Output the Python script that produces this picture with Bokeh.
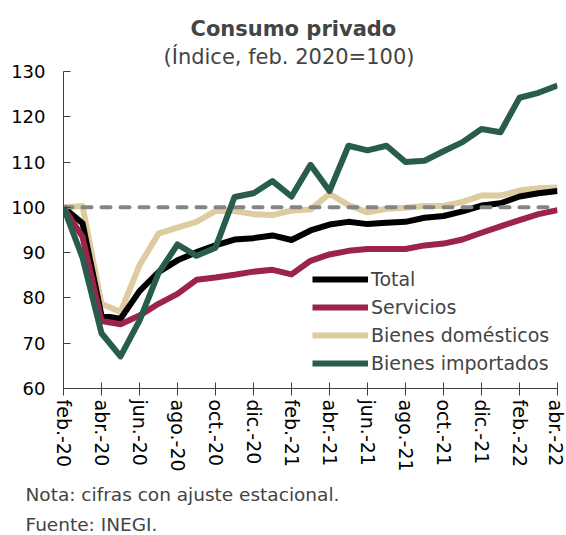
from bokeh.plotting import figure
from bokeh.models import Legend, LegendItem, FixedTicker, Title
from bokeh.embed import file_html
from bokeh.resources import INLINE

months = ["feb.-20", "mar.-20", "abr.-20", "may.-20", "jun.-20", "jul.-20", "ago.-20",
          "sep.-20", "oct.-20", "nov.-20", "dic.-20", "ene.-21", "feb.-21", "mar.-21",
          "abr.-21", "may.-21", "jun.-21", "jul.-21", "ago.-21", "sep.-21", "oct.-21",
          "nov.-21", "dic.-21", "ene.-22", "feb.-22", "mar.-22", "abr.-22"]

total = [100, 96.5, 76.1, 75.4, 81.5, 85.7, 88.3, 90.1, 91.6, 92.9, 93.2, 93.8, 92.8,
         94.9, 96.2, 96.8, 96.3, 96.6, 96.8, 97.7, 98.1, 99.1, 100.4, 100.9, 102.4, 103.1, 103.6]
servicios = [100, 93.5, 74.9, 74.2, 76.1, 78.7, 80.9, 84.0, 84.5, 85.1, 85.8, 86.2, 85.2,
             88.2, 89.6, 90.4, 90.8, 90.8, 90.8, 91.6, 92.0, 92.9, 94.4, 95.8, 97.2, 98.5, 99.4]
domesticos = [100, 100.3, 78.7, 76.9, 87.2, 94.2, 95.5, 96.8, 99.2, 99.2, 98.5, 98.3, 99.3,
              99.5, 103.0, 100.5, 98.9, 99.7, 99.9, 100.3, 100.3, 101.2, 102.6, 102.6, 103.7, 104.2, 104.4]
importados = [100, 88.9, 72.2, 67.1, 75.0, 85.5, 91.8, 89.3, 91.1, 102.3, 103.1, 105.8, 102.4,
              109.4, 103.6, 113.6, 112.6, 113.6, 110.0, 110.3, 112.4, 114.4, 117.3, 116.6, 124.2, 125.3, 126.9]

series_names = ["Total", "Servicios", "Bienes domésticos", "Bienes importados"]
y_ticks = [60, 70, 80, 90, 100, 110, 120, 130]
baseline = 100

title_text = "Consumo privado"
subtitle_text = "(Índice, feb. 2020=100)"
note_text = "Nota: cifras con ajuste estacional."
source_text = "Fuente: INEGI."

FONT = "DejaVu Sans"
x = list(range(len(months)))

p = figure(width=566, height=535, output_backend="svg", toolbar_location=None,
           x_range=(0, len(months) - 1), y_range=(60, 130),
           min_border_left=63, min_border_right=9, min_border_top=71, min_border_bottom=147)
p.outline_line_color = None
p.xgrid.visible = False
p.ygrid.visible = False

colors = {"Total": "#000000", "Servicios": "#9D2449",
          "Bienes domésticos": "#DFCBA0", "Bienes importados": "#285C4D"}
lw = 6

r_dom = p.line(x, domesticos, line_color=colors["Bienes domésticos"], line_width=lw, line_join="round")
r_tot = p.line(x, total, line_color=colors["Total"], line_width=lw, line_join="round")
r_ser = p.line(x, servicios, line_color=colors["Servicios"], line_width=lw, line_join="round")
p.line([0, len(months) - 1], [baseline, baseline], line_color="#858585", line_width=4,
       line_dash="9 10", line_cap="round")
r_imp = p.line(x, importados, line_color=colors["Bienes importados"], line_width=lw, line_join="round")

# axes
p.xaxis.ticker = FixedTicker(ticks=x[::2])
p.xaxis.major_label_overrides = {i: months[i] for i in x}
p.xaxis.major_label_orientation = "vertical"
p.yaxis.ticker = FixedTicker(ticks=y_ticks)
for ax in (p.xaxis[0], p.yaxis[0]):
    ax.axis_line_color = "#404040"
    ax.major_tick_line_color = "#404040"
    ax.minor_tick_line_color = None
    ax.major_label_text_font = FONT
    ax.major_label_text_color = "#000000"
p.yaxis.major_label_text_font_size = "18px"
p.xaxis.major_label_text_font_size = "19px"
p.yaxis.major_tick_in = 7
p.yaxis.major_tick_out = 0
p.yaxis.major_label_standoff = 18
p.xaxis.major_tick_in = 6
p.xaxis.major_tick_out = 7
p.xaxis.major_label_standoff = 4

legend = Legend(items=[LegendItem(label=series_names[0], renderers=[r_tot]),
                       LegendItem(label=series_names[1], renderers=[r_ser]),
                       LegendItem(label=series_names[2], renderers=[r_dom]),
                       LegendItem(label=series_names[3], renderers=[r_imp])],
                location=(249, 13), padding=0, margin=0, spacing=4,
                glyph_width=56, glyph_height=24, label_height=24, label_standoff=3,
                label_text_font=FONT, label_text_font_size="19px",
                border_line_color=None, background_fill_alpha=0)
p.add_layout(legend, "center")

# titles (p.title is outermost; added Title sits next to the frame)
p.title.text = title_text
p.title.align = "left"
p.title.offset = 127
p.title.text_font = FONT
p.title.text_font_size = "21px"
p.title.text_font_style = "bold"
p.title.standoff = 0
p.add_layout(Title(text=subtitle_text, align="left", offset=100, text_font=FONT,
                   text_font_size="21px", text_font_style="normal", standoff=5), "above")

# notes
p.add_layout(Title(text=note_text, align="left", offset=-38, text_font=FONT,
                   text_font_size="18.5px", text_font_style="normal", standoff=14), "below")
p.add_layout(Title(text=source_text, align="left", offset=-38, text_font=FONT,
                   text_font_size="18.5px", text_font_style="normal", standoff=0), "below")

open("out.html", "w").write(file_html(p, INLINE))
